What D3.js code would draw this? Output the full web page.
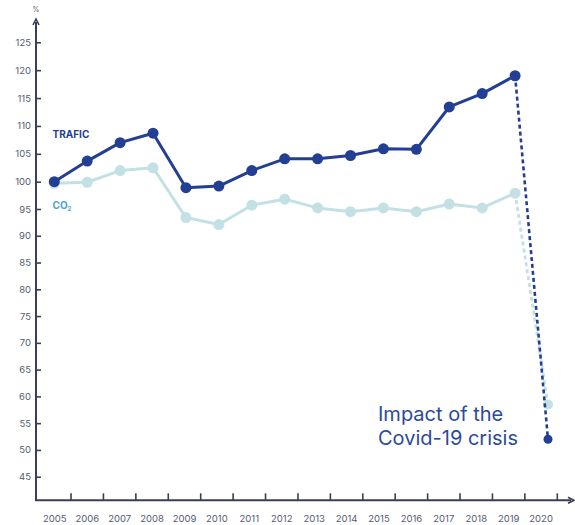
<!DOCTYPE html>
<html>
<head>
<meta charset="utf-8">
<script src="https://cdn.jsdelivr.net/npm/d3@7"></script>
<style>
  html, body { margin: 0; padding: 0; background: #ffffff; }
  svg { display: block; font-family: "Inter", "Open Sans", sans-serif; }
</style>
</head>
<body>
<svg id="chart" width="575" height="525"></svg>
<script>
// Years shown on the horizontal axis
const years = [2005, 2006, 2007, 2008, 2009, 2010, 2011, 2012, 2013, 2014, 2015, 2016, 2017, 2018, 2019, 2020];
// Index values (2005 = 100), observed years 2005-2019
const traficValues = [100, 103.7, 107.0, 108.7, 98.9, 99.2, 102.0, 104.1, 104.1, 104.7, 105.9, 105.8, 113.4, 115.8, 119.0];
const co2Values    = [99.7, 99.9, 102.0, 102.5, 93.4, 92.1, 95.7, 96.8, 95.2, 94.5, 95.2, 94.5, 95.9, 95.2, 97.9];
// 2020 estimates (Covid-19 impact)
const traficCovid = 52.0;
const co2Covid = 58.5;
const yTicks = [45, 50, 55, 60, 65, 70, 75, 80, 85, 90, 95, 100, 105, 110, 115, 120, 125];

const NAVY = "#233f94";
const PALE = "#c3e1e5";
const AXIS = "#3b3e54";
const TICKTXT = "#555a70";

const svg = d3.select("#chart");

// Vertical scale (index points)
const y = d3.scaleLinear()
  .domain([45, 95, 100, 125])
  .range([476.7, 209, 181.7, 42.3]);

// Year bands for the axis, points for the marks
const xBand = d3.scaleBand().domain(years).range([38.6, 557.3]);
const x = d3.scalePoint().domain(years).range([54.3, 548]);

const axisX0 = 36, axisY0 = 500.3;

// Y axis with inward ticks
const yAxis = d3.axisLeft(y).tickValues(yTicks).tickSize(-5).tickPadding(5).tickFormat(d3.format("d"));
const gy = svg.append("g").attr("transform", `translate(${axisX0},0)`).call(yAxis);
gy.select(".domain").remove();
gy.selectAll(".tick line").attr("stroke", AXIS).attr("stroke-width", 1.6);
gy.selectAll(".tick text").attr("fill", TICKTXT).attr("font-size", 9.5).attr("font-family", "Inter, sans-serif");

// Axis lines with arrow heads
svg.append("line").attr("x1", axisX0).attr("x2", axisX0).attr("y1", axisY0).attr("y2", 22)
  .attr("stroke", AXIS).attr("stroke-width", 2);
svg.append("path").attr("d", `M${axisX0 - 3},${25} L${axisX0},${19} L${axisX0 + 3},${25}`)
  .attr("fill", "none").attr("stroke", AXIS).attr("stroke-width", 1.6);
svg.append("line").attr("x1", axisX0 - 1).attr("x2", 571).attr("y1", axisY0).attr("y2", axisY0)
  .attr("stroke", AXIS).attr("stroke-width", 2);
svg.append("path").attr("d", `M${568},${axisY0 - 3} L${574},${axisY0} L${568},${axisY0 + 3}`)
  .attr("fill", "none").attr("stroke", AXIS).attr("stroke-width", 1.6);

svg.append("text").attr("x", axisX0).attr("y", 12).attr("text-anchor", "middle")
  .attr("font-size", 7).attr("fill", TICKTXT).text("%");

// X axis ticks at band boundaries, labels centred in bands
const gx = svg.append("g");
gx.selectAll("line.xt").data(years).join("line")
  .attr("x1", d => xBand(d) + xBand.bandwidth()).attr("x2", d => xBand(d) + xBand.bandwidth())
  .attr("y1", axisY0).attr("y2", axisY0 - 7)
  .attr("stroke", AXIS).attr("stroke-width", 1.6);
gx.selectAll("text").data(years).join("text")
  .attr("x", d => xBand(d) + xBand.bandwidth() / 2)
  .attr("y", 521.5)
  .attr("text-anchor", "middle")
  .attr("font-size", 9.5)
  .attr("fill", TICKTXT)
  .text(d => d);

const observedYears = years.slice(0, traficValues.length);
const lastYear = observedYears[observedYears.length - 1];
const covidYear = years[years.length - 1];

function drawSeries(values, covidValue, color, r, covidR, dash, dashWidth) {
  const pts = observedYears.map((yr, i) => [x(yr), y(values[i])]);
  // Covid projection
  svg.append("line")
    .attr("x1", x(lastYear)).attr("y1", y(values[values.length - 1]))
    .attr("x2", x(covidYear)).attr("y2", y(covidValue))
    .attr("stroke", color).attr("stroke-width", dashWidth).attr("stroke-dasharray", dash);
  svg.append("path")
    .attr("d", d3.line()(pts))
    .attr("fill", "none").attr("stroke", color).attr("stroke-width", 3).attr("stroke-linejoin", "round");
  svg.selectAll(null).data(pts).join("circle")
    .attr("cx", d => d[0]).attr("cy", d => d[1]).attr("r", r).attr("fill", color);
  svg.append("circle").attr("cx", x(covidYear)).attr("cy", y(covidValue)).attr("r", covidR).attr("fill", color);
}

drawSeries(co2Values, co2Covid, PALE, 5.5, 5, "4,3", 2.8);
drawSeries(traficValues, traficCovid, NAVY, 5.5, 4.5, "4,3", 2.6);

// Series labels
svg.append("text").attr("x", 52.5).attr("y", 138).attr("font-size", 10).attr("font-weight", 700)
  .attr("fill", NAVY).text("TRAFIC");
const co2 = svg.append("text").attr("x", 52.5).attr("y", 208.5).attr("font-size", 10).attr("font-weight", 700)
  .attr("fill", "#4aa3d8");
co2.append("tspan").text("CO");
co2.append("tspan").attr("font-size", 6).attr("dy", 2).text("2");

// Annotation
const note = svg.append("text").attr("font-size", 20).attr("fill", "#2b4a9b").attr("font-family", "Inter, sans-serif");
note.append("tspan").attr("x", 378).attr("y", 420.5).text("Impact of the");
note.append("tspan").attr("x", 378).attr("y", 444.5).text("Covid-19 crisis");
</script>
</body>
</html>
